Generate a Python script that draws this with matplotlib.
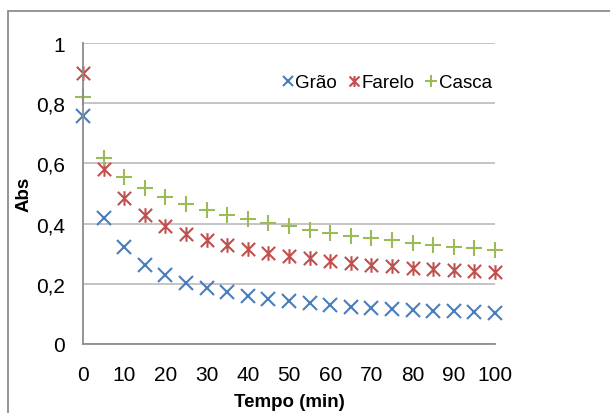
import numpy as np
import matplotlib
matplotlib.use('Agg')
import matplotlib.pyplot as plt
from matplotlib.path import Path
from matplotlib.patches import Rectangle

plt.rcParams['font.family'] = ['Liberation Sans', 'DejaVu Sans']

# Data
tempo = [0, 5, 10, 15, 20, 25, 30, 35, 40, 45, 50, 55, 60, 65, 70, 75, 80, 85, 90, 95, 100]
grao = [0.756, 0.419, 0.321, 0.264, 0.230, 0.203, 0.186, 0.172, 0.160, 0.150, 0.142,
        0.135, 0.130, 0.124, 0.119, 0.116, 0.113, 0.110, 0.108, 0.106, 0.104]
farelo = [0.900, 0.581, 0.484, 0.429, 0.391, 0.365, 0.347, 0.329, 0.316, 0.302, 0.293,
          0.285, 0.277, 0.270, 0.264, 0.258, 0.254, 0.249, 0.245, 0.241, 0.238]
casca = [0.822, 0.617, 0.554, 0.518, 0.487, 0.465, 0.445, 0.429, 0.415, 0.402, 0.391,
         0.380, 0.369, 0.360, 0.352, 0.346, 0.337, 0.329, 0.323, 0.318, 0.312]
y_ticks = [0, 0.2, 0.4, 0.6, 0.8, 1]
y_labels = ['0', '0,2', '0,4', '0,6', '0,8', '1']

# Excel-style star marker: an x with a vertical bar
star = Path([(-1, -1), (1, 1), (-1, 1), (1, -1), (0, -1.1), (0, 1.1)],
            [Path.MOVETO, Path.LINETO, Path.MOVETO, Path.LINETO, Path.MOVETO, Path.LINETO])

fig = plt.figure(figsize=(6.1, 4.14), dpi=100)
ax = fig.add_axes([0.136, 0.1667, 0.6755, 0.727])

ax.plot(tempo, grao, linestyle='none', marker='x', markersize=9.5, markeredgewidth=1.5,
        color='#4A7EBB', label='Grão', clip_on=False)
ax.plot(tempo, farelo, linestyle='none', marker=star, markersize=10.5, markeredgewidth=1.5,
        color='#C0504D', label='Farelo', clip_on=False)
ax.plot(tempo, casca, linestyle='none', marker='+', markersize=12, markeredgewidth=1.5,
        color='#9BBB59', label='Casca', clip_on=False)

ax.set_xlim(0, 100)
ax.set_ylim(0, 1)
ax.set_xticks(range(0, 101, 10))
ax.set_yticks(y_ticks)
ax.set_yticklabels(y_labels)
ax.tick_params(axis='both', length=0, labelsize=15)
ax.tick_params(axis='x', pad=15)
ax.tick_params(axis='y', pad=13)
ax.grid(axis='y', color='#BFBFBF', linewidth=1.3)
ax.set_axisbelow(True)

for side in ['top', 'right']:
    ax.spines[side].set_visible(False)
for side in ['left', 'bottom']:
    ax.spines[side].set_color('#8C8C8C')
    ax.spines[side].set_linewidth(1.3)

ax.set_xlabel('Tempo (min)', fontsize=13.5, fontweight='bold')
ax.set_ylabel('Abs', fontsize=13.5, fontweight='bold')
ax.yaxis.set_label_coords(-0.122, 0.5)
ax.xaxis.set_label_coords(0.5, -0.162)

ax.legend(loc='center right', bbox_to_anchor=(1.01, 0.868), ncol=3, frameon=False,
          fontsize=13.5, handlelength=0.4, handletextpad=0.2, columnspacing=0.7,
          borderaxespad=0, markerscale=0.75)

# grey outer chart border
fig.patches.append(Rectangle((8 / 610, -0.05), 1.2, 1 - 12 / 414 + 0.05,
                             transform=fig.transFigure, fill=False,
                             edgecolor='#8C8C8C', linewidth=1.3))

fig.savefig('out.png', dpi=100)
